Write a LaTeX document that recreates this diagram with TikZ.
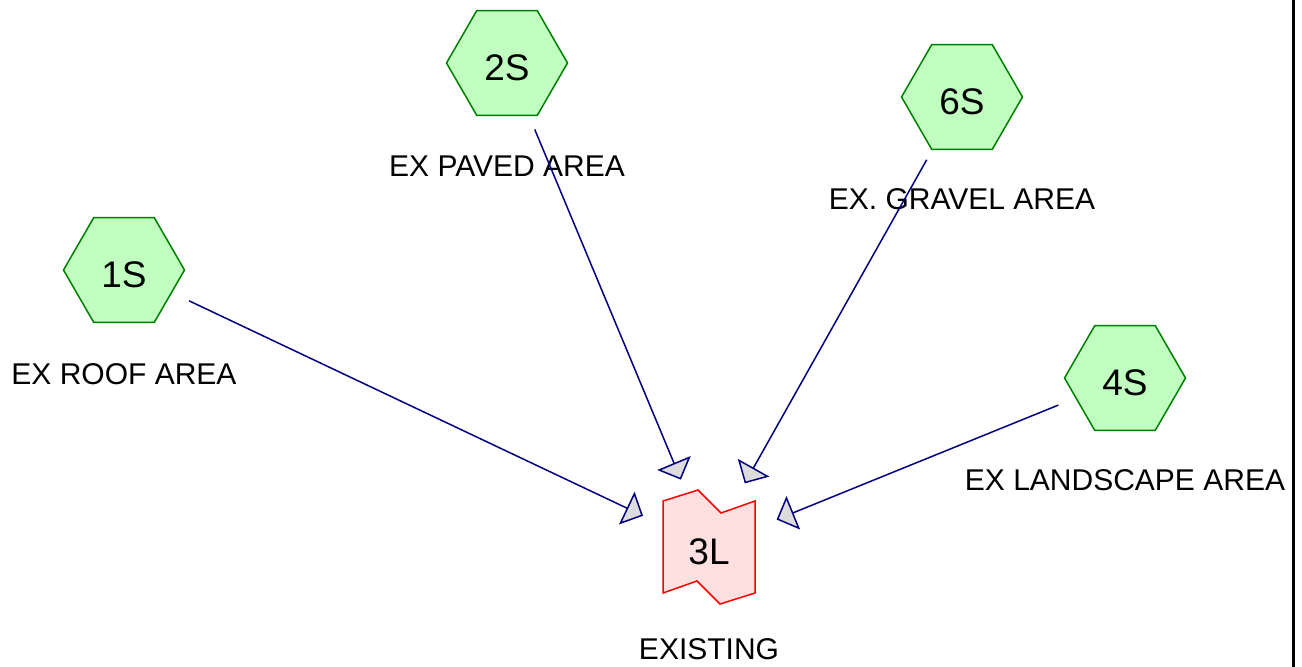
\documentclass[tikz,border=0pt]{standalone}
\usepackage{fontspec}
\setmainfont{Liberation Sans}
\usetikzlibrary{calc}
\usetikzlibrary{arrows.meta}
\usetikzlibrary{shapes.geometric}
\definecolor{hexfill}{HTML}{C0FFC0}
\definecolor{hexdraw}{HTML}{008000}
\definecolor{pondfill}{HTML}{FFE0E0}
\definecolor{ponddraw}{HTML}{FF0000}
\definecolor{linkblue}{HTML}{000080}
\definecolor{tipgray}{HTML}{DCDCDC}
\tikzset{
	every path/.style={line width=1.5pt},
	subcat/.style={
		draw=hexdraw,
		fill=hexfill,
		regular polygon,
		regular polygon sides=6,
		minimum size=121pt,
		inner sep=0pt,
		text height=34pt,
		text depth=0pt,
		font=\fontsize{37}{42}\selectfont,
	},
	pond/.style={
		draw=ponddraw,
		fill=pondfill,
		line join=miter,
	},
	pondnode/.style={
		inner sep=0pt,
		text height=34pt,
		text depth=0pt,
		font=\fontsize{37}{42}\selectfont,
	},
	caption/.style={
		anchor=base,
		inner sep=0pt,
		font=\fontsize{30}{35}\selectfont,
	},
	flow/.style={
		draw=linkblue,
		shorten <=72pt,
		shorten >=73pt,
		-{Triangle[length=18pt,width=36pt,fill=tipgray]}
	},
}

\begin{document}
\begin{tikzpicture}[x=1pt,y=-1pt]
		\useasboundingbox (0,0) rectangle (1302,667);

		\node[subcat]			(1S) at (124,270) {1S};
		\node[subcat]			(2S) at (507,63) {2S};
		\node[subcat]			(6S) at (962,97) {6S};
		\node[subcat]			(4S) at (1125,378) {4S};

		\node[caption]		(1Slab) at ([yshift=-114pt]1S.center) {EX ROOF AREA};
		\node[caption]		(2Slab) at ([yshift=-113pt]2S.center) {EX PAVED AREA};
		\node[caption]		(6Slab) at ([yshift=-112pt]6S.center) {EX. GRAVEL AREA};
		\node[caption]		(4Slab) at ([yshift=-112pt]4S.center) {EX LANDSCAPE AREA};

%%%

		\coordinate (c3L) at (709,547);
		\draw[pond] ($(c3L)+(-46,-46)$) -- ($(c3L)+(-11,-57)$) -- ($(c3L)+(12,-34)$)
			-- ($(c3L)+(46,-46)$) -- ($(c3L)+(46,46)$) -- ($(c3L)+(11,57)$)
			-- ($(c3L)+(-12,34)$) -- ($(c3L)+(-46,46)$) -- cycle;
		\node[pondnode]		(3L) at (c3L) {3L};
		\node[caption]		(3Llab) at ([yshift=-112pt]3L.center) {EXISTING};

		\draw[flow] 			(1S.center) -- (3L.center);
		\draw[flow] 			(2S.center) -- (3L.center);
		\draw[flow] 			(6S.center) -- (3L.center);
		\draw[flow] 			(4S.center) -- (3L.center);

		% page edge
		\draw[line width=3pt] (1293.5,0) -- (1293.5,667);
	\end{tikzpicture}
\end{document}
